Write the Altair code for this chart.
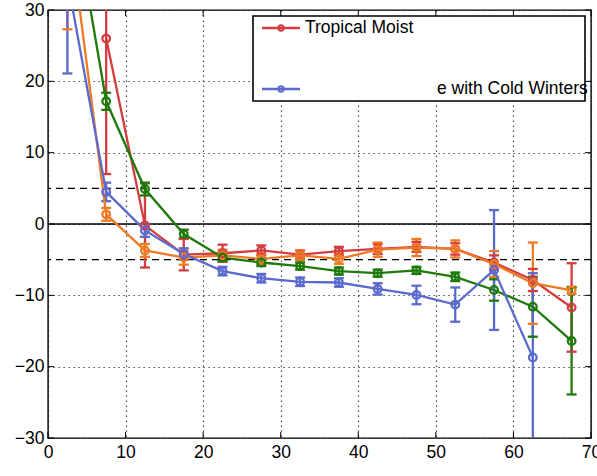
import altair as alt
import pandas as pd

# ---------------- data ----------------
x_bins = [2.5, 7.5, 12.5, 17.5, 22.5, 27.5, 32.5, 37.5, 42.5, 47.5, 52.5, 57.5, 62.5, 67.5]
series_names = ["Tropical Moist", "Dry", "Moist Mid-Latitude with Mild Winters",
                "Moist Mid-Latitude with Cold Winters"]
series_colors = ["#d43c3f", "#ef7a24", "#1f7a0c", "#5b6acd"]

red_vals = [None, 26.0, -0.2, -4.3, -4.1, -3.7, -4.3, -3.8, -3.5, -3.2, -3.5, -5.4, -7.85, -11.7]
red_errs = [None, 19.0, 5.9, 2.2, 1.2, 0.7, 0.6, 0.6, 0.7, 0.7, 0.8, 1.0, 1.55, 6.2]
orange_vals = [43.5, 1.35, -3.7, -4.7, -4.4, -4.9, -4.4, -4.9, -3.6, -3.3, -3.5, -5.6, -8.3, -9.3]
orange_errs = [16.2, 0.9, 0.9, 1.0, 0.8, 0.7, 0.7, 0.7, 1.0, 1.2, 1.2, 1.8, 5.7, 0.5]
green_vals = [49.0, 17.2, 4.9, -1.4, -4.7, -5.4, -5.9, -6.6, -6.9, -6.5, -7.4, -9.25, -11.6, -16.4]
green_errs = [5.0, 1.2, 0.9, 0.6, 0.5, 0.5, 0.5, 0.5, 0.5, 0.5, 0.6, 1.5, 4.2, 7.5]
blue_vals = [34.2, 4.5, -0.9, -4.2, -6.6, -7.6, -8.1, -8.2, -9.1, -9.95, -11.3, -6.45, -18.7, None]
blue_errs = [13.1, 1.3, 0.9, 0.8, 0.6, 0.6, 0.6, 0.6, 0.8, 1.3, 2.4, 8.4, 11.8, None]

x_ticks = [0, 10, 20, 30, 40, 50, 60, 70]
y_ticks = [-30, -20, -10, 0, 10, 20, 30]
dashed_levels = [5, -5]
zero_level = [0]
legend_labels = ["Tropical Moist", "e with Cold Winters"]

# ---------------- build table ----------------
all_vals = [red_vals, orange_vals, green_vals, blue_vals]
all_errs = [red_errs, orange_errs, green_errs, blue_errs]
rows = []
for si, (name, vals, errs) in enumerate(zip(series_names, all_vals, all_errs)):
    for xv, v, e in zip(x_bins, vals, errs):
        if v is None:
            continue
        rows.append({"series": name, "order": si, "x": xv, "y": v,
                     "lo": v - e, "hi": v + e})
df = pd.DataFrame(rows)

W, H = 543, 428
FONT = "Liberation Sans"
LW = 2.3

xs = alt.Scale(domain=[0, 70], nice=False, zero=False)
ys = alt.Scale(domain=[-30, 30], nice=False, zero=False)
col = alt.Color("series:N", scale=alt.Scale(domain=series_names, range=series_colors), legend=None)

x_axis = alt.Axis(values=x_ticks, grid=True, gridDash=[1.2, 3.8], gridColor="#222", gridOpacity=1,
                  gridWidth=1.2, ticks=False, tickSize=0, domain=False, labelFont=FONT,
                  labelFontSize=17.5, labelColor="black", labelPadding=5, labelFlush=False, title=None)
y_axis = alt.Axis(values=y_ticks, grid=True, gridDash=[1.2, 3.8], gridColor="#222", gridOpacity=1,
                  gridWidth=1.2, ticks=False, tickSize=0, domain=False, labelFont=FONT,
                  labelFontSize=17.5, labelColor="black", labelPadding=4, title=None)

base = alt.Chart(df)

# reference lines
dash_df = pd.DataFrame({"v": dashed_levels})
zero_df = pd.DataFrame({"v": zero_level})
dashed = alt.Chart(dash_df).mark_rule(color="black", strokeDash=[7, 5], strokeWidth=1.1).encode(
    y=alt.Y("v:Q", scale=ys, axis=y_axis))
zero = alt.Chart(zero_df).mark_rule(color="black", strokeWidth=1.3).encode(
    y=alt.Y("v:Q", scale=ys))

err = base.mark_rule(strokeWidth=LW, clip=True).encode(
    x=alt.X("x:Q", scale=xs, axis=x_axis),
    y=alt.Y("lo:Q", scale=ys, axis=y_axis), y2="hi:Q", color=col,
    order="order:Q")
cap_lo = base.mark_tick(orient="horizontal", size=10, thickness=LW, clip=True, opacity=1).encode(
    x=alt.X("x:Q", scale=xs), y=alt.Y("lo:Q", scale=ys), color=col, order="order:Q")
cap_hi = base.mark_tick(orient="horizontal", size=10, thickness=LW, clip=True, opacity=1).encode(
    x=alt.X("x:Q", scale=xs), y=alt.Y("hi:Q", scale=ys), color=col, order="order:Q")
lines = base.mark_line(strokeWidth=LW, clip=True).encode(
    x=alt.X("x:Q", scale=xs), y=alt.Y("y:Q", scale=ys), color=col, detail="series:N",
    order="x:Q")
pts = base.mark_point(filled=False, size=58, strokeWidth=LW, clip=True, opacity=1).encode(
    x=alt.X("x:Q", scale=xs), y=alt.Y("y:Q", scale=ys), color=col, order="order:Q")

# inward ticks on all four sides
xt_df = pd.DataFrame({"v": x_ticks})
yt_df = pd.DataFrame({"v": y_ticks})
tb = alt.Chart(xt_df).mark_rule(color="black", strokeWidth=1).encode(
    x=alt.X("v:Q", scale=xs), y=alt.value(H), y2=alt.value(H - 6))
tt = alt.Chart(xt_df).mark_rule(color="black", strokeWidth=1).encode(
    x=alt.X("v:Q", scale=xs), y=alt.value(0), y2=alt.value(6))
tl = alt.Chart(yt_df).mark_rule(color="black", strokeWidth=1).encode(
    y=alt.Y("v:Q", scale=ys), x=alt.value(0), x2=alt.value(6))
tr = alt.Chart(yt_df).mark_rule(color="black", strokeWidth=1).encode(
    y=alt.Y("v:Q", scale=ys), x=alt.value(W), x2=alt.value(W - 6))

# legend box
leg_df = pd.DataFrame({"label": legend_labels, "series": [series_names[0], series_names[3]]})
leg_box = alt.Chart(leg_df.head(1)).mark_rect(fill="white", stroke="black", strokeWidth=1.6).encode(
    x=alt.value(205), x2=alt.value(537), y=alt.value(6), y2=alt.value(91))
leg_red_line = alt.Chart(leg_df.head(1)).mark_rule(strokeWidth=LW, color=series_colors[0]).encode(
    x=alt.value(214), x2=alt.value(252), y=alt.value(18))
leg_red_pt = alt.Chart(leg_df.head(1)).mark_point(filled=False, size=28, strokeWidth=2,
                                                   color=series_colors[0], opacity=1).encode(
    x=alt.value(233), y=alt.value(18))
leg_red_txt = alt.Chart(leg_df.head(1)).mark_text(align="left", baseline="middle", font=FONT,
                                                   fontSize=17.5, color="black").encode(
    x=alt.value(257), y=alt.value(18), text="label:N")
leg_blue_line = alt.Chart(leg_df.tail(1)).mark_rule(strokeWidth=LW, color=series_colors[3]).encode(
    x=alt.value(214), x2=alt.value(252), y=alt.value(79))
leg_blue_pt = alt.Chart(leg_df.tail(1)).mark_point(filled=False, size=28, strokeWidth=2,
                                                    color=series_colors[3], opacity=1).encode(
    x=alt.value(233), y=alt.value(79))
leg_blue_txt = alt.Chart(leg_df.tail(1)).mark_text(align="left", baseline="middle", font=FONT,
                                                    fontSize=17.5, color="black").encode(
    x=alt.value(389), y=alt.value(79), text="label:N")

chart = alt.layer(
    dashed, zero, err, cap_lo, cap_hi, lines, pts, tb, tt, tl, tr,
    leg_box, leg_red_line, leg_red_pt, leg_red_txt, leg_blue_line, leg_blue_pt, leg_blue_txt
).properties(
    width=W, height=H,
    autosize=alt.AutoSizeParams(type="none"),
    padding={"left": 48, "top": 10, "right": 6, "bottom": 38},
    background="white",
).configure_view(stroke="black", strokeWidth=1.4)

chart.save("out.html", embed_options={"renderer": "svg", "actions": False})
